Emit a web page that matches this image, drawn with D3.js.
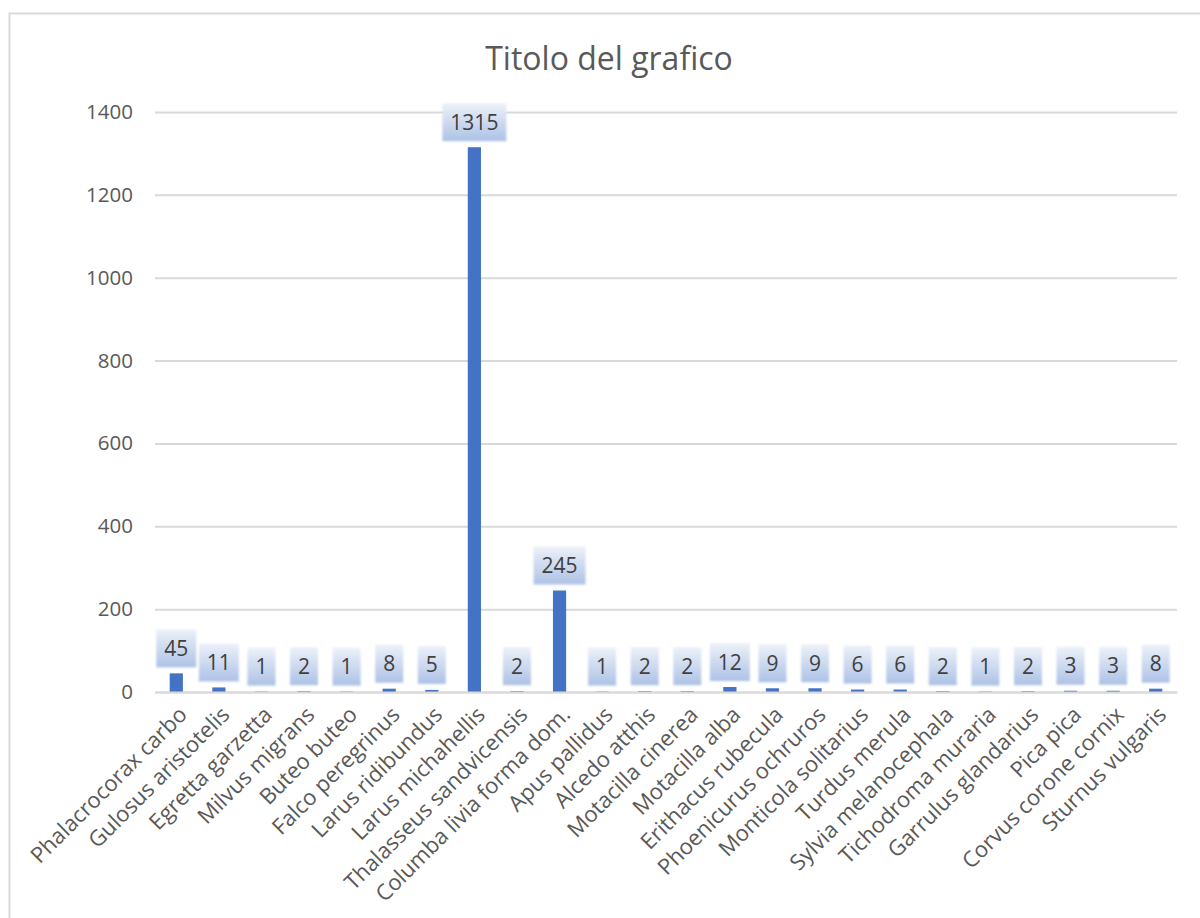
<!DOCTYPE html>
<html><head><meta charset="utf-8">
<script src="https://cdn.jsdelivr.net/npm/d3@7/dist/d3.min.js"></script>
<style>body{margin:0;background:#fff}svg{display:block}</style>
</head><body>
<script>
const categories = ["Phalacrocorax carbo","Gulosus aristotelis","Egretta garzetta","Milvus migrans","Buteo buteo","Falco peregrinus","Larus ridibundus","Larus michahellis","Thalasseus sandvicensis","Columba livia forma dom.","Apus pallidus","Alcedo atthis","Motacilla cinerea","Motacilla alba","Erithacus rubecula","Phoenicurus ochruros","Monticola solitarius","Turdus merula","Sylvia melanocephala","Tichodroma muraria","Garrulus glandarius","Pica pica","Corvus corone cornix","Sturnus vulgaris"];
const values = [45,11,1,2,1,8,5,1315,2,245,1,2,2,12,9,9,6,6,2,1,2,3,3,8];
const yTicks = [0,200,400,600,800,1000,1200,1400];
const title = "Titolo del grafico";

const W=1200,H=918;
const svg=d3.select("body").append("svg").attr("width",W).attr("height",H);
const font="'Open Sans', sans-serif";
const defs=svg.append("defs");
const g=defs.append("linearGradient").attr("id","lbl").attr("x1",0).attr("x2",0).attr("y1",0).attr("y2",1);
g.append("stop").attr("offset","0%").attr("stop-color","#edf1f9");
g.append("stop").attr("offset","100%").attr("stop-color","#adc2e6");
const f=defs.append("filter").attr("id","soft").attr("x","-10%").attr("y","-10%").attr("width","120%").attr("height","120%");
f.append("feGaussianBlur").attr("stdDeviation",0.8);

svg.append("rect").attr("x",9.5).attr("y",13.5).attr("width",1300).attr("height",1000)
  .attr("fill","#fff").attr("stroke","#d9d9d9").attr("stroke-width",2);

const x=d3.scaleBand().domain(categories).range([155,1177]).paddingInner(0.69).paddingOuter(0.345);
const y=d3.scaleLinear().domain([0,1400]).range([692,112]);

svg.append("text").attr("x",609).attr("y",70).attr("text-anchor","middle")
  .attr("font-family",font).attr("font-size",32).attr("fill","#595959").text(title);

const ya=svg.append("g").attr("transform","translate(155,0)")
  .call(d3.axisLeft(y).tickValues(yTicks).tickSize(-1022).tickPadding(22).tickFormat(d3.format("d")));
ya.select(".domain").remove();
ya.selectAll(".tick line").attr("stroke","#d9d9d9").attr("stroke-width",2);
ya.selectAll(".tick text").attr("font-family",font).attr("font-size",20.5).attr("fill","#595959");

svg.selectAll("rect.bar").data(values).enter().append("rect").attr("class","bar")
  .attr("x",(d,i)=>x(categories[i])).attr("width",x.bandwidth())
  .attr("y",d=>y(d)).attr("height",d=>y(0)-y(d)).attr("fill","#4472c4");

const xa=svg.append("g").attr("transform","translate(0,692)")
  .call(d3.axisBottom(x).tickSize(0).tickPadding(0));
xa.select(".domain").attr("stroke","#d9d9d9").attr("stroke-width",2);
xa.selectAll(".tick text").attr("font-family",font).attr("font-size",22).attr("fill","#595959")
  .attr("text-anchor","end").attr("dy",0).attr("y",0)
  .attr("transform","translate(12,24) rotate(-45)");

const lab=svg.append("g");
values.forEach((v,i)=>{
  const cx=x(categories[i])+x.bandwidth()/2;
  const t=lab.append("text").attr("x",cx).attr("y",y(v)-6-19).attr("dy","0.36em")
    .attr("text-anchor","middle").attr("font-family",font).attr("font-size",21).attr("fill","#404040").text(v);
  const bw=t.node().getComputedTextLength()+16;
  lab.insert("rect","text").attr("x",cx-bw/2).attr("y",y(v)-6-38).attr("width",bw).attr("height",38)
    .attr("fill","url(#lbl)").attr("filter","url(#soft)");
});
lab.selectAll("text").raise();
</script>
</body></html>
